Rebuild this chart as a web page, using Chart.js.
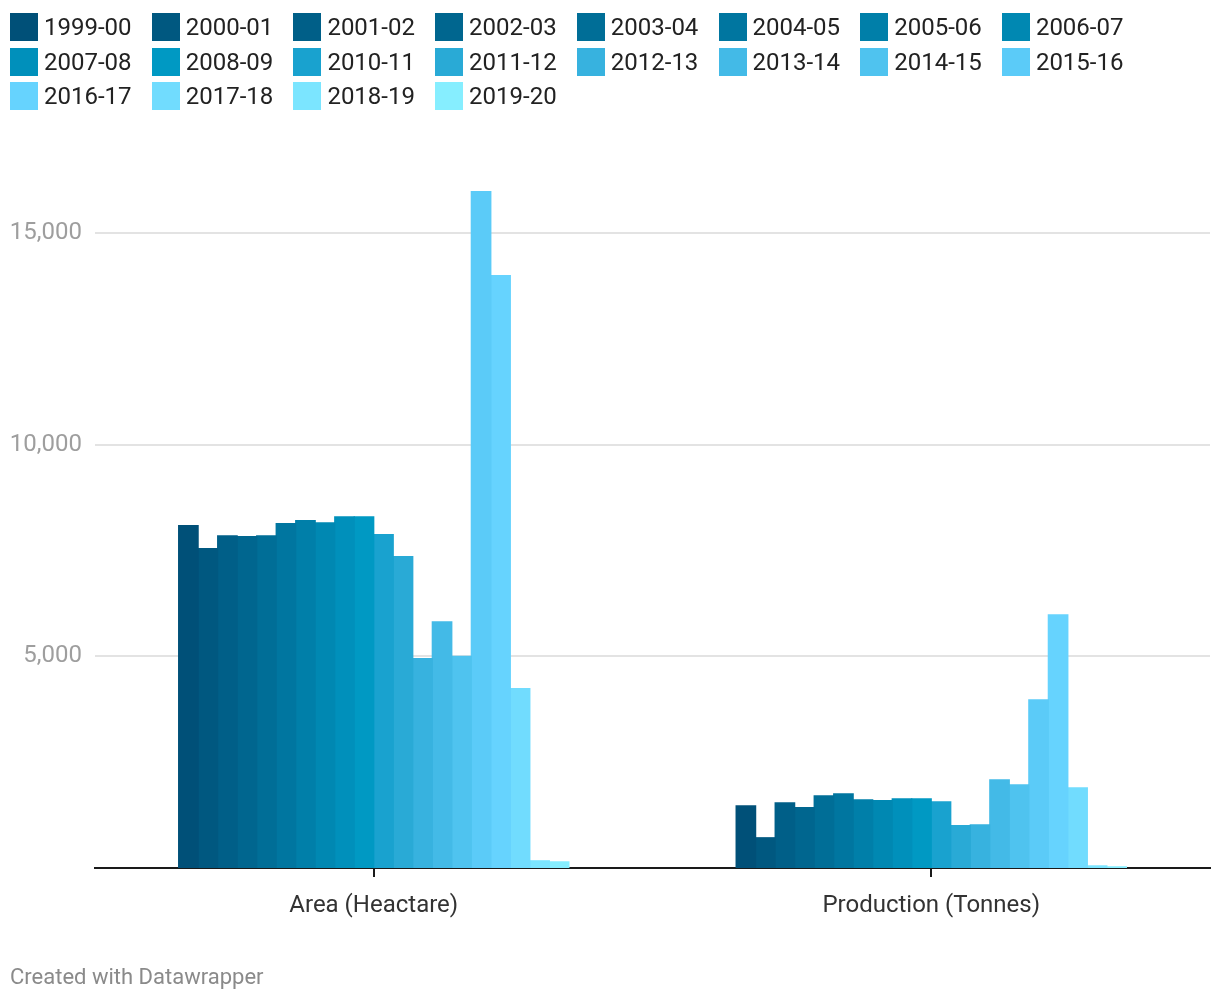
<!DOCTYPE html>
<html>
<head>
<meta charset="utf-8">
<script src="https://cdn.jsdelivr.net/npm/chart.js@4/dist/chart.umd.min.js"></script>
<style>
  html, body { margin: 0; padding: 0; background: #fff; }
  body { width: 1220px; height: 1000px; position: relative; overflow: hidden; font-family: Roboto, "Noto Sans", sans-serif; }
  #wrap { position: absolute; left: 0; top: 0; width: 1220px; height: 1000px; }
  .lg { position: absolute; height: 28px; display: flex; align-items: center; white-space: nowrap; }
  .lg .sw { width: 28px; height: 28px; margin-right: 6px; flex: none; }
  .lg .tx { font-size: 24px; color: #222; line-height: 28px; }
  #footer { position: absolute; left: 10px; top: 964px; font-size: 22px; color: #8a8a8a; }
</style>
</head>
<body>
<div id="wrap"><canvas id="c" width="1220" height="1000"></canvas></div>
<div id="legend"></div>
<div id="footer">Created with Datawrapper</div>
<script>
const categories = ["Area (Heactare)", "Production (Tonnes)"];
const seasons = ["1999-00","2000-01","2001-02","2002-03","2003-04","2004-05","2005-06","2006-07","2007-08","2008-09","2010-11","2011-12","2012-13","2013-14","2014-15","2015-16","2016-17","2017-18","2018-19","2019-20"];
const areaValues = [8090, 7550, 7850, 7830, 7850, 8140, 8210, 8160, 8300, 8300, 7880, 7360, 4950, 5820, 5000, 16000, 14000, 4240, 170, 145];
const productionValues = [1470, 715, 1540, 1425, 1705, 1755, 1610, 1590, 1635, 1635, 1565, 1000, 1020, 2085, 1965, 3975, 5985, 1895, 50, 28];
const yTicks = [5000, 10000, 15000];
const colors = ["#005078","#005880","#005f88","#00668f","#006e97","#0076a0","#007fa9","#0088b2","#0090bb","#0099c3","#19a2cf","#29aad6","#37b2df","#43bae7","#4fc3ef","#5bcbf8","#66d3fe","#71dcfe","#7be5ff","#86eeff"];

// HTML legend
const legend = document.getElementById('legend');
seasons.forEach((s, i) => {
  const col = i % 8, row = Math.floor(i / 8);
  const d = document.createElement('div');
  d.className = 'lg';
  d.style.left = (10 + col * 141.7) + 'px';
  d.style.top = (13 + row * 34.5) + 'px';
  d.innerHTML = '<div class="sw" style="background:' + colors[i] + '"></div><div class="tx">' + s + '</div>';
  legend.appendChild(d);
});

const datasets = seasons.map((s, i) => ({
  label: s,
  data: [areaValues[i], productionValues[i]],
  backgroundColor: colors[i],
  borderWidth: 0,
  inflateAmount: 0.6,
  categoryPercentage: 0.7,
  barPercentage: 1.0
}));

new Chart(document.getElementById('c'), {
  type: 'bar',
  data: { labels: categories, datasets },
  options: {
    responsive: false,
    animation: false,
    devicePixelRatio: 1,
    layout: { padding: { top: 191, right: 10, left: 0, bottom: 0 } },
    plugins: { legend: { display: false }, tooltip: { enabled: false } },
    scales: {
      x: {
        grid: { display: true, drawOnChartArea: false, drawTicks: true, tickLength: 9, offset: false, color: '#1a1a1a', lineWidth: 2 },
        border: { display: true, color: '#1a1a1a', width: 2 },
        ticks: { color: '#333', font: { family: 'Roboto', size: 24 }, padding: 15 },
        afterFit: (s) => { s.height = 132; }
      },
      y: {
        min: 0, max: 16000,
        afterBuildTicks: (s) => { s.ticks = yTicks.map(v => ({ value: v })); },
        grid: { color: '#e3e3e3', lineWidth: 2, drawTicks: false },
        border: { display: false },
        ticks: { color: '#9e9e9e', font: { family: 'Roboto', size: 24 }, padding: 13,
          callback: (v) => v.toLocaleString('en-US') },
        afterFit: (s) => { s.width = 95; }
      }
    }
  }
});
</script>
</body>
</html>
